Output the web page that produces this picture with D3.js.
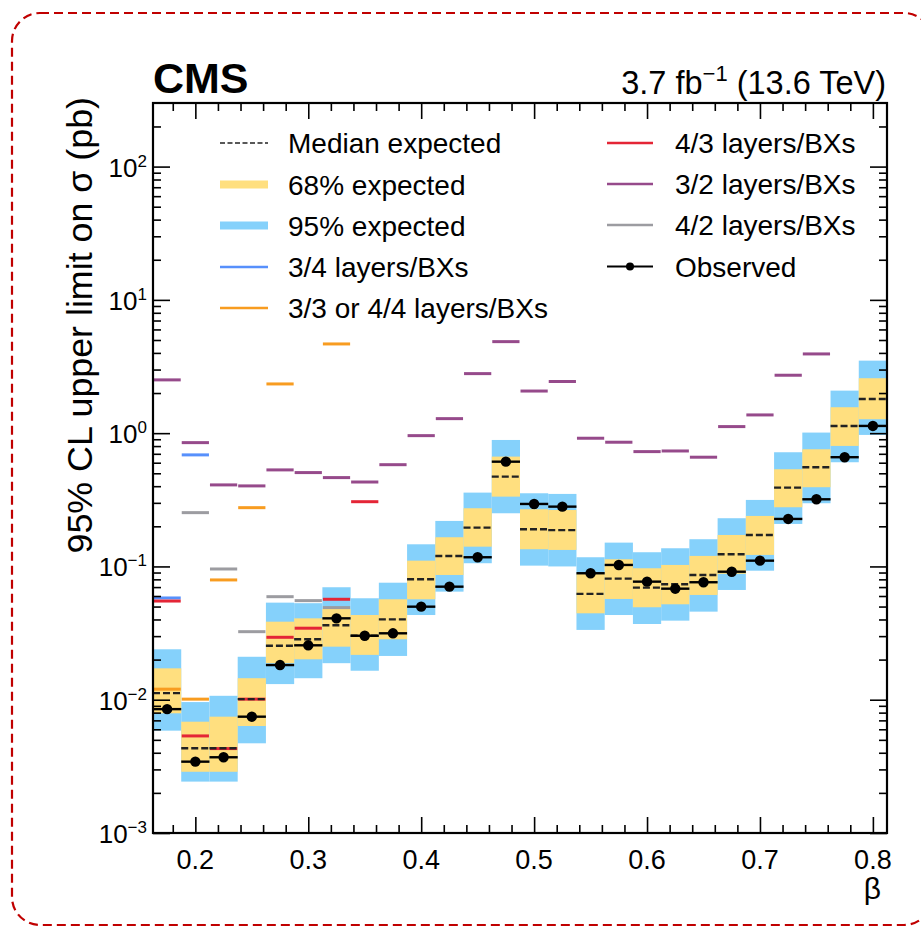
<!DOCTYPE html>
<html>
<head>
<meta charset="utf-8">
<script src="https://cdn.jsdelivr.net/npm/d3@7"></script>
<style>
  html, body { margin: 0; padding: 0; background: #ffffff; }
  svg { display: block; }
  text { font-family: "Liberation Sans", Arial, Helvetica, sans-serif; fill: #000; }
</style>
</head>
<body>
<svg id="chart" width="921" height="930"></svg>
<script>
// ---------------- data ----------------
const beta = [0.175, 0.2, 0.225, 0.25, 0.275, 0.3, 0.325, 0.35, 0.375, 0.4, 0.425, 0.45, 0.475,
              0.5, 0.525, 0.55, 0.575, 0.6, 0.625, 0.65, 0.675, 0.7, 0.725, 0.75, 0.775, 0.8];
const exp95Lo = [0.00586, 0.00243, 0.00243, 0.00471, 0.0131, 0.0145, 0.0188, 0.0165, 0.0213, 0.0432, 0.0647, 0.1057, 0.2506,
                 0.1014, 0.100, 0.0334, 0.0432, 0.037, 0.0392, 0.0458, 0.0666, 0.0929, 0.2084, 0.298, 0.605, 0.97];
const exp68Lo = [0.00791, 0.00288, 0.00288, 0.00635, 0.0188, 0.0201, 0.025, 0.0217, 0.0284, 0.0567, 0.0863, 0.1407, 0.334,
                 0.1346, 0.133, 0.0445, 0.057, 0.0494, 0.052, 0.0611, 0.088, 0.122, 0.278, 0.393, 0.802, 1.272];
const expMedian = [0.0112, 0.00432, 0.00432, 0.0101, 0.0254, 0.0284, 0.0362, 0.0302, 0.0401, 0.0801, 0.1199, 0.1954, 0.4718,
                   0.190, 0.1873, 0.0622, 0.081, 0.0693, 0.0735, 0.0863, 0.1234, 0.1722, 0.390, 0.555, 1.133, 1.806];
const exp68Hi = [0.0172, 0.00684, 0.00746, 0.0145, 0.0385, 0.0408, 0.048, 0.0432, 0.0567, 0.1105, 0.1656, 0.2733, 0.667,
                 0.2685, 0.265, 0.089, 0.1132, 0.0969, 0.1026, 0.1199, 0.1722, 0.2392, 0.536, 0.757, 1.565, 2.583];
const exp95Hi = [0.0239, 0.0096, 0.0107, 0.0210, 0.0535, 0.053, 0.0698, 0.0577, 0.0755, 0.1466, 0.2195, 0.358, 0.889,
                 0.354, 0.350, 0.1172, 0.1509, 0.1278, 0.1369, 0.16, 0.23, 0.3155, 0.719, 1.01, 2.085, 3.50];
const observed = [0.0085, 0.00343, 0.0037, 0.00746, 0.0182, 0.0256, 0.0408, 0.0302, 0.0315, 0.0499, 0.0705, 0.1172, 0.611,
                  0.2943, 0.281, 0.0889, 0.1026, 0.0769, 0.0681, 0.0761, 0.0913, 0.1105, 0.2272, 0.319, 0.66, 1.133];

// individual layer/BX categories (null = not shown)
const layers34 = [0.058, 0.687, null, null, null, null, null, null, null, null, null, null, null,
                  null, null, null, null, null, null, null, null, null, null, null, null, null];
const layers33or44 = [0.0120, 0.0101, 0.0792, 0.276, 2.34, null, 4.67, null, null, null, null, null, null,
                      null, null, null, null, null, null, null, null, null, null, null, null, null];
const layers43 = [0.055, 0.00535, 0.0043, 0.0101, 0.0294, 0.0344, 0.0567, 0.306, null, null, null, null, null,
                  null, null, null, null, null, null, null, null, null, null, null, null, null];
const layers32 = [2.51, 0.849, 0.409, 0.402, 0.530, 0.506, 0.464, 0.430, 0.580, 0.958, 1.285, 2.797, 4.86,
                  2.07, 2.44, 0.916, 0.855, 0.727, 0.735, 0.66, 1.12, 1.37, 2.72, 3.93, null, null];
const layers42 = [null, 0.2533, 0.0957, 0.0324, 0.0593, 0.0554, 0.0491, null, null, null, null, null, null,
                  null, null, null, null, null, null, null, null, null, null, null, null, null];

const binWidth = 0.025;
const xTickLabels = ["0.2", "0.3", "0.4", "0.5", "0.6", "0.7", "0.8"];
const xTickValues = [0.2, 0.3, 0.4, 0.5, 0.6, 0.7, 0.8];
const yTickExponents = [-3, -2, -1, 0, 1, 2];

const legendLeft = [
  { label: "Median expected", kind: "median" },
  { label: "68% expected", kind: "band68" },
  { label: "95% expected", kind: "band95" },
  { label: "3/4 layers/BXs", kind: "line", color: "#5790fc" },
  { label: "3/3 or 4/4 layers/BXs", kind: "line", color: "#f89c20" }
];
const legendRight = [
  { label: "4/3 layers/BXs", kind: "line", color: "#e42536" },
  { label: "3/2 layers/BXs", kind: "line", color: "#964a8b" },
  { label: "4/2 layers/BXs", kind: "line", color: "#9c9ca1" },
  { label: "Observed", kind: "obs" }
];

// ---------------- drawing ----------------
const svg = d3.select("#chart");
const L = 153, R = 887, T = 103, B = 833;
const col68 = "#ffdf7f", col95 = "#85d1fb";

// outer dashed rounded frame (extends past the right edge of the window)
svg.append("rect").attr("x", 12).attr("y", 13).attr("width", 920).attr("height", 912)
  .attr("rx", 28).attr("ry", 28).attr("fill", "none")
  .attr("stroke", "#c00000").attr("stroke-width", 2.2).attr("stroke-dasharray", "9,5");

const x = d3.scaleLinear().domain([0.1625, 0.8125]).range([L, R]);
const y = d3.scaleLog().domain([1e-3, 300]).range([B, T]);

const bins = beta.map((b, i) => ({
  b, i, x0: x(b - binWidth / 2), x1: x(b + binWidth / 2)
}));

const g = svg.append("g");

// 95% band
g.selectAll("rect.b95").data(bins).join("rect").attr("class", "b95")
  .attr("x", d => d.x0).attr("width", d => d.x1 - d.x0)
  .attr("y", d => y(exp95Hi[d.i])).attr("height", d => y(exp95Lo[d.i]) - y(exp95Hi[d.i]))
  .attr("fill", col95);
// 68% band
g.selectAll("rect.b68").data(bins).join("rect").attr("class", "b68")
  .attr("x", d => d.x0).attr("width", d => d.x1 - d.x0)
  .attr("y", d => y(exp68Hi[d.i])).attr("height", d => y(exp68Lo[d.i]) - y(exp68Hi[d.i]))
  .attr("fill", col68);

// layer lines
const layerSeries = [
  { vals: layers32, color: "#964a8b" },
  { vals: layers42, color: "#9c9ca1" },
  { vals: layers33or44, color: "#f89c20" },
  { vals: layers34, color: "#5790fc" },
  { vals: layers43, color: "#e42536" }
];
layerSeries.forEach(s => {
  g.append("g").selectAll("line").data(bins.filter(d => s.vals[d.i] != null)).join("line")
    .attr("x1", d => d.x0 + 0.5).attr("x2", d => d.x1 - 0.5)
    .attr("y1", d => y(s.vals[d.i])).attr("y2", d => y(s.vals[d.i]))
    .attr("stroke", s.color).attr("stroke-width", 3);
});

// median expected
g.append("g").selectAll("line").data(bins).join("line")
  .attr("x1", d => d.x0).attr("x2", d => d.x1)
  .attr("y1", d => y(expMedian[d.i])).attr("y2", d => y(expMedian[d.i]))
  .attr("stroke", "#222").attr("stroke-width", 2.4).attr("stroke-dasharray", "7,3");

// observed
g.append("g").selectAll("line").data(bins).join("line")
  .attr("x1", d => d.x0).attr("x2", d => d.x1)
  .attr("y1", d => y(observed[d.i])).attr("y2", d => y(observed[d.i]))
  .attr("stroke", "#000").attr("stroke-width", 2.4);
g.append("g").selectAll("circle").data(bins).join("circle")
  .attr("cx", d => x(d.b)).attr("cy", d => y(observed[d.i])).attr("r", 5.2)
  .attr("fill", "#000");

// ---------------- axes ----------------
const xMinor = d3.range(0.18, 0.8125, 0.02).filter(v => Math.abs(v * 10 - Math.round(v * 10)) > 1e-6);
const yMinor = [];
for (let e = -3; e <= 2; e++) for (let k = 2; k <= 9; k++) { const v = k * Math.pow(10, e); if (v < 299) yMinor.push(v); }

function styleAxis(sel) {
  sel.selectAll("path.domain").remove();
  sel.selectAll("line").attr("stroke", "#000").attr("stroke-width", 1.6);
  sel.selectAll("text").remove();
}
svg.append("g").attr("transform", `translate(0,${B})`)
  .call(d3.axisBottom(x).tickValues(xTickValues).tickSize(-16).tickFormat("")).call(styleAxis);
svg.append("g").attr("transform", `translate(0,${B})`)
  .call(d3.axisBottom(x).tickValues(xMinor).tickSize(-8).tickFormat("")).call(styleAxis);
svg.append("g").attr("transform", `translate(0,${T})`)
  .call(d3.axisTop(x).tickValues(xTickValues).tickSize(-16).tickFormat("")).call(styleAxis);
svg.append("g").attr("transform", `translate(0,${T})`)
  .call(d3.axisTop(x).tickValues(xMinor).tickSize(-8).tickFormat("")).call(styleAxis);

const yMajorVals = yTickExponents.map(e => Math.pow(10, e));
svg.append("g").attr("transform", `translate(${L},0)`)
  .call(d3.axisLeft(y).tickValues(yMajorVals).tickSize(-17).tickFormat("")).call(styleAxis);
svg.append("g").attr("transform", `translate(${L},0)`)
  .call(d3.axisLeft(y).tickValues(yMinor).tickSize(-8).tickFormat("")).call(styleAxis);
svg.append("g").attr("transform", `translate(${R},0)`)
  .call(d3.axisRight(y).tickValues(yMajorVals).tickSize(-17).tickFormat("")).call(styleAxis);
svg.append("g").attr("transform", `translate(${R},0)`)
  .call(d3.axisRight(y).tickValues(yMinor).tickSize(-8).tickFormat("")).call(styleAxis);

// frame
svg.append("rect").attr("x", L).attr("y", T).attr("width", R - L).attr("height", B - T)
  .attr("fill", "none").attr("stroke", "#000").attr("stroke-width", 2.2);

// x tick labels
svg.append("g").selectAll("text").data(xTickValues).join("text")
  .attr("x", d => x(d)).attr("y", B + 36).attr("text-anchor", "middle")
  .attr("font-size", 27).text((d, i) => xTickLabels[i]);

// y tick labels (10^n)
const yl = svg.append("g").selectAll("text").data(yTickExponents).join("text")
  .attr("x", L - 6).attr("y", d => y(Math.pow(10, d)) + 10).attr("text-anchor", "end")
  .attr("font-size", 26);
yl.append("tspan").text("10");
yl.append("tspan").attr("dy", -10).attr("font-size", 17).text(d => d < 0 ? "\u2212" + (-d) : String(d));

// axis titles
svg.append("text").attr("x", R - 6).attr("y", B + 66).attr("text-anchor", "end")
  .attr("font-size", 30).text("β");
svg.append("text").attr("transform", `translate(92,97) rotate(-90)`)
  .attr("text-anchor", "end").attr("font-size", 35.8).text("95% CL upper limit on σ (pb)");

// header
svg.append("text").attr("x", L).attr("y", 93).attr("font-size", 43).attr("font-weight", "bold").text("CMS");
const lumi = svg.append("text").attr("x", R - 1).attr("y", 94).attr("text-anchor", "end").attr("font-size", 32.5);
lumi.append("tspan").text("3.7 fb");
lumi.append("tspan").attr("dy", -13).attr("font-size", 22).text("\u22121");
lumi.append("tspan").attr("dy", 13).text(" (13.6 TeV)");

// ---------------- legend ----------------
function drawLegend(items, x0, x1, tx, ys) {
  items.forEach((it, k) => {
    const yy = ys[k];
    const lg = svg.append("g");
    if (it.kind === "median") {
      lg.append("line").attr("x1", x0).attr("x2", x1).attr("y1", yy).attr("y2", yy)
        .attr("stroke", "#222").attr("stroke-width", 1.6).attr("stroke-dasharray", "5,2.5");
    } else if (it.kind === "band68" || it.kind === "band95") {
      lg.append("rect").attr("x", x0).attr("y", yy - 4).attr("width", x1 - x0).attr("height", 8)
        .attr("fill", it.kind === "band68" ? col68 : col95);
    } else if (it.kind === "line") {
      lg.append("line").attr("x1", x0).attr("x2", x1).attr("y1", yy).attr("y2", yy)
        .attr("stroke", it.color).attr("stroke-width", 2.6);
    } else if (it.kind === "obs") {
      lg.append("line").attr("x1", x0).attr("x2", x1).attr("y1", yy).attr("y2", yy)
        .attr("stroke", "#000").attr("stroke-width", 2.2);
      lg.append("circle").attr("cx", (x0 + x1) / 2).attr("cy", yy).attr("r", 4).attr("fill", "#000");
    }
    lg.append("text").attr("x", tx).attr("y", yy + 10).attr("font-size", 28).text(it.label);
  });
}
drawLegend(legendLeft, 220, 268, 288, [143, 184.5, 225.5, 267, 308]);
drawLegend(legendRight, 607, 653, 675, [143, 184, 225, 266.5]);
</script>
</body>
</html>
